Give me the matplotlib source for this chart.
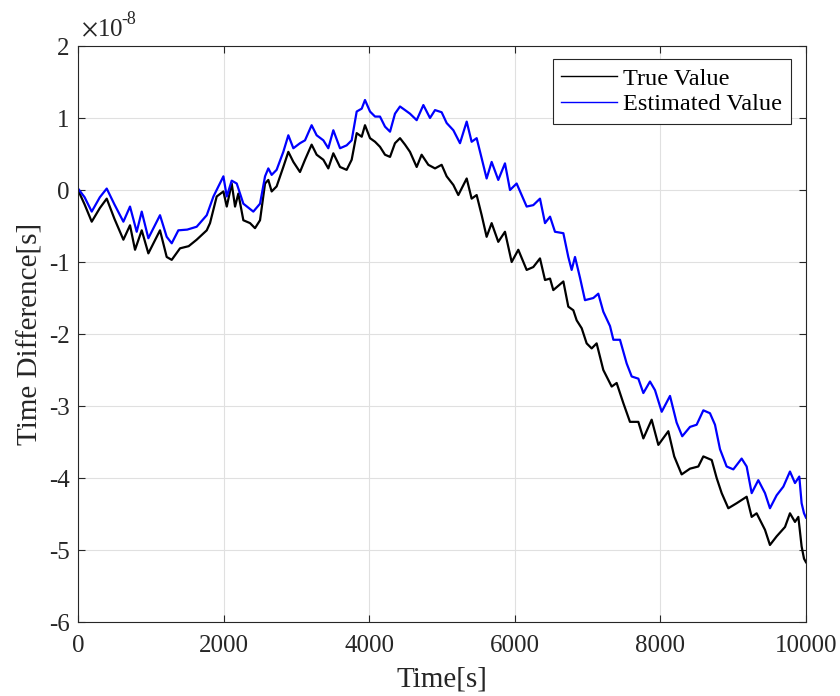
import matplotlib
matplotlib.use("Agg")
import matplotlib.pyplot as plt

plt.rcParams['font.family'] = ['Liberation Serif', 'DejaVu Serif']
plt.rcParams['mathtext.fontset'] = 'stix'
plt.rcParams['axes.unicode_minus'] = False

# values in units of 1e-8 s
t_true = [0, 90, 188, 300, 394, 500, 623, 714, 783, 875, 966, 1126, 1218, 1287,
          1401, 1520, 1630, 1768, 1813, 1905, 1997, 2043, 2111, 2157, 2202, 2271,
          2363, 2431, 2500, 2569, 2614, 2660, 2728, 2820, 2889, 2958, 3049, 3118,
          3209, 3278, 3370, 3438, 3507, 3599, 3690, 3759, 3828, 3897, 3942, 4011,
          4080, 4148, 4217, 4286, 4354, 4423, 4492, 4560, 4652, 4720, 4812, 4904,
          4995, 5064, 5156, 5224, 5339, 5407, 5476, 5545, 5613, 5682, 5773, 5865,
          5957, 6048, 6163, 6254, 6346, 6415, 6484, 6529, 6667, 6735, 6804, 6850,
          6919, 6987, 7056, 7124, 7216, 7331, 7399, 7491, 7582, 7697, 7766, 7880,
          7972, 8109, 8190, 8292, 8407, 8521, 8590, 8705, 8773, 8842, 8933, 9048,
          9185, 9254, 9322, 9437, 9505, 9597, 9712, 9780, 9849, 9895, 9940, 9973,
          10000]
v_true = [0.0, -0.20, -0.44, -0.25, -0.12, -0.40, -0.69, -0.49, -0.83, -0.56, -0.88,
          -0.56, -0.93, -0.97, -0.81, -0.78, -0.69, -0.56, -0.46, -0.09, -0.02,
          -0.23, 0.09, -0.23, -0.05, -0.42, -0.46, -0.53, -0.42, 0.09, 0.14, -0.02,
          0.05, 0.32, 0.53, 0.39, 0.25, 0.42, 0.63, 0.49, 0.42, 0.30, 0.51, 0.32,
          0.28, 0.42, 0.79, 0.74, 0.90, 0.72, 0.67, 0.60, 0.49, 0.46, 0.65, 0.72,
          0.63, 0.53, 0.32, 0.49, 0.35, 0.30, 0.35, 0.19, 0.07, -0.07, 0.16, -0.12,
          -0.07, -0.35, -0.65, -0.46, -0.72, -0.58, -1.00, -0.83, -1.11, -1.07,
          -0.95, -1.25, -1.23, -1.39, -1.27, -1.62, -1.67, -1.81, -1.92, -2.13,
          -2.20, -2.13, -2.50, -2.73, -2.68, -2.96, -3.22, -3.22, -3.45, -3.19,
          -3.54, -3.35, -3.70, -3.95, -3.87, -3.84, -3.70, -3.75, -4.00, -4.21,
          -4.42, -4.35, -4.26, -4.54, -4.49, -4.72, -4.93, -4.81, -4.68, -4.49,
          -4.61, -4.54, -4.95, -5.12, -5.17]

t_est = [0, 90, 188, 300, 394, 500, 623, 714, 806, 875, 966, 1126, 1218, 1287,
         1378, 1500, 1630, 1768, 1860, 1997, 2043, 2111, 2180, 2271, 2408, 2500,
         2569, 2614, 2660, 2728, 2820, 2889, 2958, 3049, 3118, 3209, 3278, 3370,
         3438, 3507, 3599, 3690, 3759, 3828, 3897, 3942, 4011, 4080, 4148, 4217,
         4286, 4354, 4423, 4492, 4560, 4652, 4744, 4835, 4904, 4995, 5064, 5156,
         5247, 5339, 5407, 5476, 5545, 5613, 5682, 5773, 5865, 5934, 6025, 6163,
         6254, 6346, 6415, 6484, 6552, 6667, 6735, 6781, 6827, 6896, 6964, 7079,
         7147, 7216, 7308, 7354, 7445, 7537, 7606, 7697, 7766, 7857, 7926, 8018,
         8132, 8223, 8300, 8407, 8498, 8590, 8681, 8750, 8819, 8910, 9002, 9116,
         9185, 9254, 9345, 9437, 9505, 9597, 9689, 9780, 9849, 9908, 9940, 9973,
         10000]
v_est = [0.02, -0.10, -0.30, -0.10, 0.02, -0.20, -0.44, -0.23, -0.58, -0.30, -0.67,
         -0.35, -0.65, -0.74, -0.56, -0.55, -0.51, -0.35, -0.09, 0.19, -0.09, 0.13,
         0.09, -0.19, -0.30, -0.19, 0.19, 0.30, 0.21, 0.28, 0.53, 0.76, 0.58, 0.65,
         0.69, 0.90, 0.76, 0.69, 0.58, 0.83, 0.58, 0.62, 0.69, 1.09, 1.13, 1.25,
         1.09, 1.02, 1.02, 0.88, 0.81, 1.06, 1.16, 1.11, 1.06, 0.97, 1.18, 1.00,
         1.11, 1.08, 0.93, 0.83, 0.65, 0.95, 0.67, 0.72, 0.44, 0.16, 0.39, 0.14,
         0.37, 0.00, 0.09, -0.23, -0.21, -0.12, -0.46, -0.37, -0.58, -0.60, -0.93,
         -1.11, -0.93, -1.22, -1.53, -1.50, -1.44, -1.69, -1.89, -2.08, -2.08,
         -2.41, -2.59, -2.62, -2.82, -2.66, -2.78, -3.08, -2.86, -3.23, -3.42,
         -3.29, -3.26, -3.06, -3.10, -3.26, -3.60, -3.84, -3.88, -3.73, -3.84,
         -4.21, -4.03, -4.21, -4.42, -4.24, -4.12, -3.91, -4.07, -3.98, -4.35,
         -4.49, -4.55]

ink = '#262626'

fig = plt.figure(figsize=(8.4, 6.96), dpi=100)
ax = fig.add_axes([0.0929, 0.1063, 0.8666, 0.8276])

ax.plot(t_true, v_true, color='black', lw=1.6, label='True Value')
ax.plot(t_est, v_est, color='blue', lw=1.6, label='Estimated Value')

ax.set_xlim(0, 10000)
ax.set_ylim(-6, 2)
ax.set_xticks([0, 2000, 4000, 6000, 8000, 10000])
ax.set_yticks(range(-6, 3))
ax.grid(True, color='#e0e0e0', lw=0.8)
ax.set_axisbelow(True)
ax.tick_params(direction='in', top=True, right=True, labelsize=18, length=5,
               width=0.8, colors=ink, labelcolor=ink)
ax.tick_params(axis='x', pad=9)
ax.tick_params(axis='y', pad=6)
for s in ax.spines.values():
    s.set_color(ink)
    s.set_linewidth(0.8)

ax.set_xlabel('Time[s]', fontsize=21, color=ink, labelpad=7)
ax.set_ylabel('Time Difference[s]', fontsize=21, color=ink, labelpad=4)

# MATLAB-style exponent label above the y axis
ax.text(0.004, 1.008, r'$\times$10', transform=ax.transAxes, fontsize=18,
        color=ink, va='bottom', ha='left')
ax.text(0.060, 1.032, '-8', transform=ax.transAxes, fontsize=13,
        color=ink, va='bottom', ha='left')

leg = ax.legend(loc='upper right', fontsize=17.5, frameon=True, fancybox=False,
                edgecolor=ink, framealpha=1, handlelength=2.3,
                borderpad=0.35, labelspacing=0.15, handletextpad=0.25,
                borderaxespad=0, bbox_to_anchor=(0.9794, 0.977))
leg.get_frame().set_linewidth(0.8)
for line in leg.get_lines():
    line.set_linewidth(1.0)

fig.savefig('out.png', dpi=100)
